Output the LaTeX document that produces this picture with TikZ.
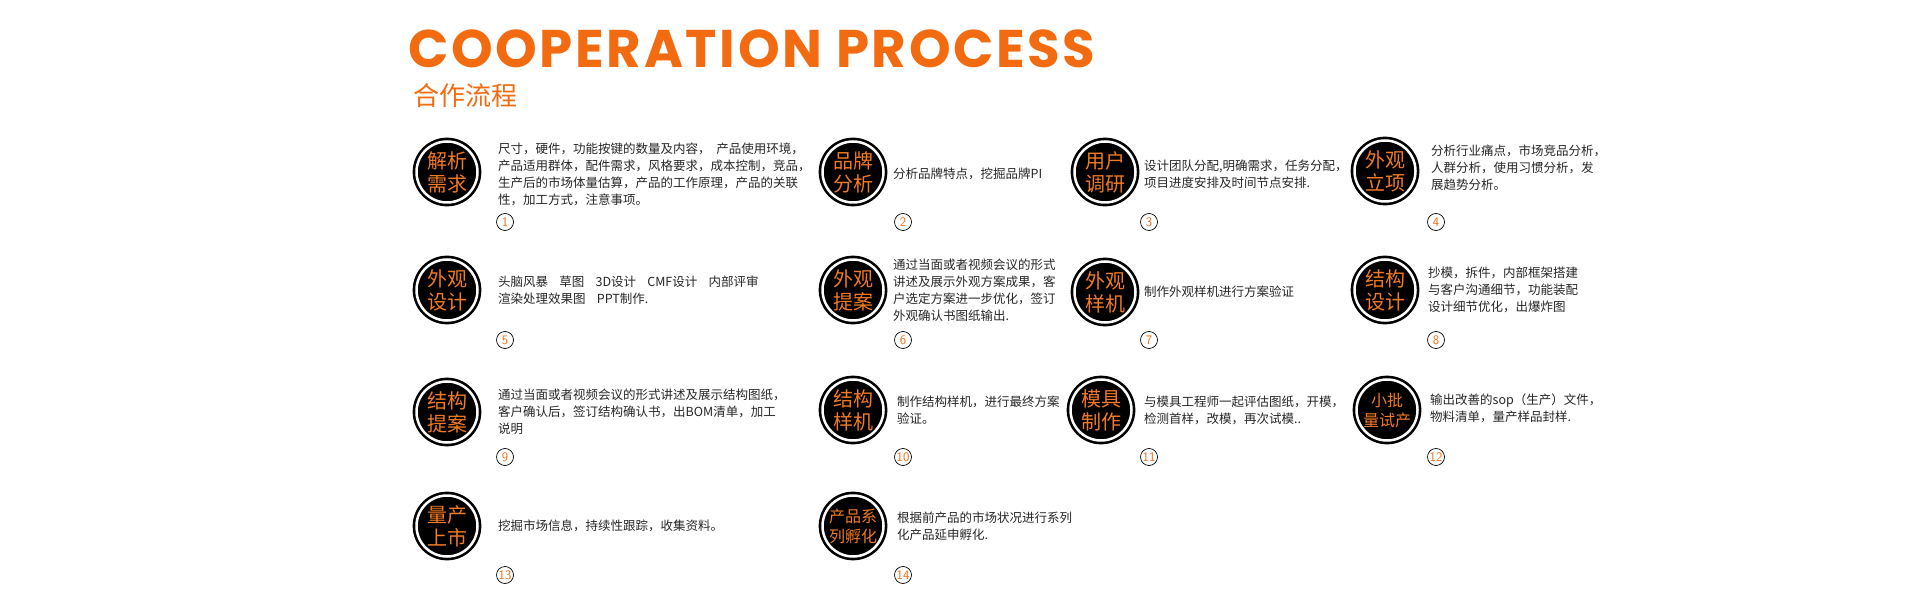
\documentclass[tikz,border=0pt]{standalone}
\usepackage{fontspec}
\newfontfamily\cjk{Noto Sans CJK SC}
\newfontfamily\titlefont[LetterSpace=5]{Poppins}
\definecolor{orng}{HTML}{F26B10}
\definecolor{lorng}{HTML}{F27A22}
\begin{document}
\begin{tikzpicture}[x=1pt,y=-1pt,
  stepcirc/.style={circle,fill=black,draw=black,double=white,double distance=2.5pt,line width=2.6pt,minimum size=61pt,inner sep=0pt,text=lorng,align=center,font=\cjk\fontsize{20}{23}\selectfont},
  smallcirc/.style={stepcirc,font=\cjk\fontsize{16}{20}\selectfont},
  desc/.style={anchor=west,align=left,inner sep=0pt,font=\cjk\fontsize{12.5}{17}\selectfont,text=black!85},
  numc/.style={circle,draw=black,line width=0.7pt,minimum size=17pt,inner sep=0pt,text=orng,font=\sffamily\fontsize{13}{13}\selectfont}]
\useasboundingbox (0,0) rectangle (1921,601);
\node[anchor=base west,inner sep=0pt,text=orng,font=\titlefont\bfseries\fontsize{53}{53}\selectfont] (title) at (408,68) {COOPERATION PROCESS};
\node[anchor=west,inner sep=0pt,text=orng,font=\cjk\fontsize{26}{26}\selectfont] (sub) at (413,96) {合作流程};
% row 1
\node[stepcirc] (c1) at (447,172) {解析\\需求};
\node[desc] (t1) at (498,174) {尺寸，硬件，功能按键的数量及内容，\ \ 产品使用环境，\\产品适用群体，配件需求，风格要求，成本控制，竞品，\\生产后的市场体量估算，产品的工作原理，产品的关联\\性，加工方式，注意事项。};
\node[numc] (n1) at (505,222) {1};
\node[stepcirc] (c2) at (853,172) {品牌\\分析};
\node[desc] (t2) at (893,174) {分析品牌特点，挖掘品牌PI};
\node[numc] (n2) at (903,222) {2};
\node[stepcirc] (c3) at (1105,172) {用户\\调研};
\node[desc] (t3) at (1144,174) {设计团队分配,明确需求，任务分配，\\项目进度安排及时间节点安排.};
\node[numc] (n3) at (1149,222) {3};
\node[stepcirc] (c4) at (1385,171) {外观\\立项};
\node[desc] (t4) at (1431,168) {分析行业痛点，市场竞品分析，\\人群分析，使用习惯分析，发\\展趋势分析。};
\node[numc] (n4) at (1436,222) {4};
% row 2
\node[stepcirc] (c5) at (447,290) {外观\\设计};
\node[desc] (t5) at (498,290) {头脑风暴\ \ \ \ 草图\ \ \ \ 3D设计\ \ \ \ CMF设计\ \ \ \ 内部评审\\渲染处理效果图\ \ \ \ PPT制作.};
\node[numc] (n5) at (505,340) {5};
\node[stepcirc] (c6) at (853,290) {外观\\提案};
\node[desc] (t6) at (893,290) {通过当面或者视频会议的形式\\讲述及展示外观方案成果，客\\户选定方案进一步优化，签订\\外观确认书图纸输出.};
\node[numc] (n6) at (903,340) {6};
\node[stepcirc] (c7) at (1105,292) {外观\\样机};
\node[desc] (t7) at (1144,292) {制作外观样机进行方案验证};
\node[numc] (n7) at (1149,340) {7};
\node[stepcirc] (c8) at (1385,290) {结构\\设计};
\node[desc] (t8) at (1428,290) {抄模，拆件，内部框架搭建\\与客户沟通细节，功能装配\\设计细节优化，出爆炸图};
\node[numc] (n8) at (1436,340) {8};
% row 3
\node[stepcirc] (c9) at (447,412) {结构\\提案};
\node[desc] (t9) at (498,412) {通过当面或者视频会议的形式讲述及展示结构图纸，\\客户确认后，签订结构确认书，出BOM清单，加工\\说明};
\node[numc] (n9) at (505,457) {9};
\node[stepcirc] (c10) at (853,410) {结构\\样机};
\node[desc] (t10) at (897,410) {制作结构样机，进行最终方案\\验证。};
\node[numc] (n10) at (903,457) {10};
\node[stepcirc] (c11) at (1101,410) {模具\\制作};
\node[desc] (t11) at (1144,410) {与模具工程师一起评估图纸，开模，\\检测首样，改模，再次试模..};
\node[numc] (n11) at (1149,457) {11};
\node[smallcirc] (c12) at (1387,410) {小批\\量试产};
\node[desc] (t12) at (1430,408) {输出改善的sop（生产）文件，\\物料清单，量产样品封样.};
\node[numc] (n12) at (1436,457) {12};
% row 4
\node[stepcirc] (c13) at (447,526) {量产\\上市};
\node[desc] (t13) at (498,526) {挖掘市场信息，持续性跟踪，收集资料。};
\node[numc] (n13) at (505,575) {13};
\node[smallcirc] (c14) at (853,526) {产品系\\列孵化};
\node[desc] (t14) at (897,526) {根据前产品的市场状况进行系列\\化产品延申孵化.};
\node[numc] (n14) at (903,575) {14};
\end{tikzpicture}
\end{document}
